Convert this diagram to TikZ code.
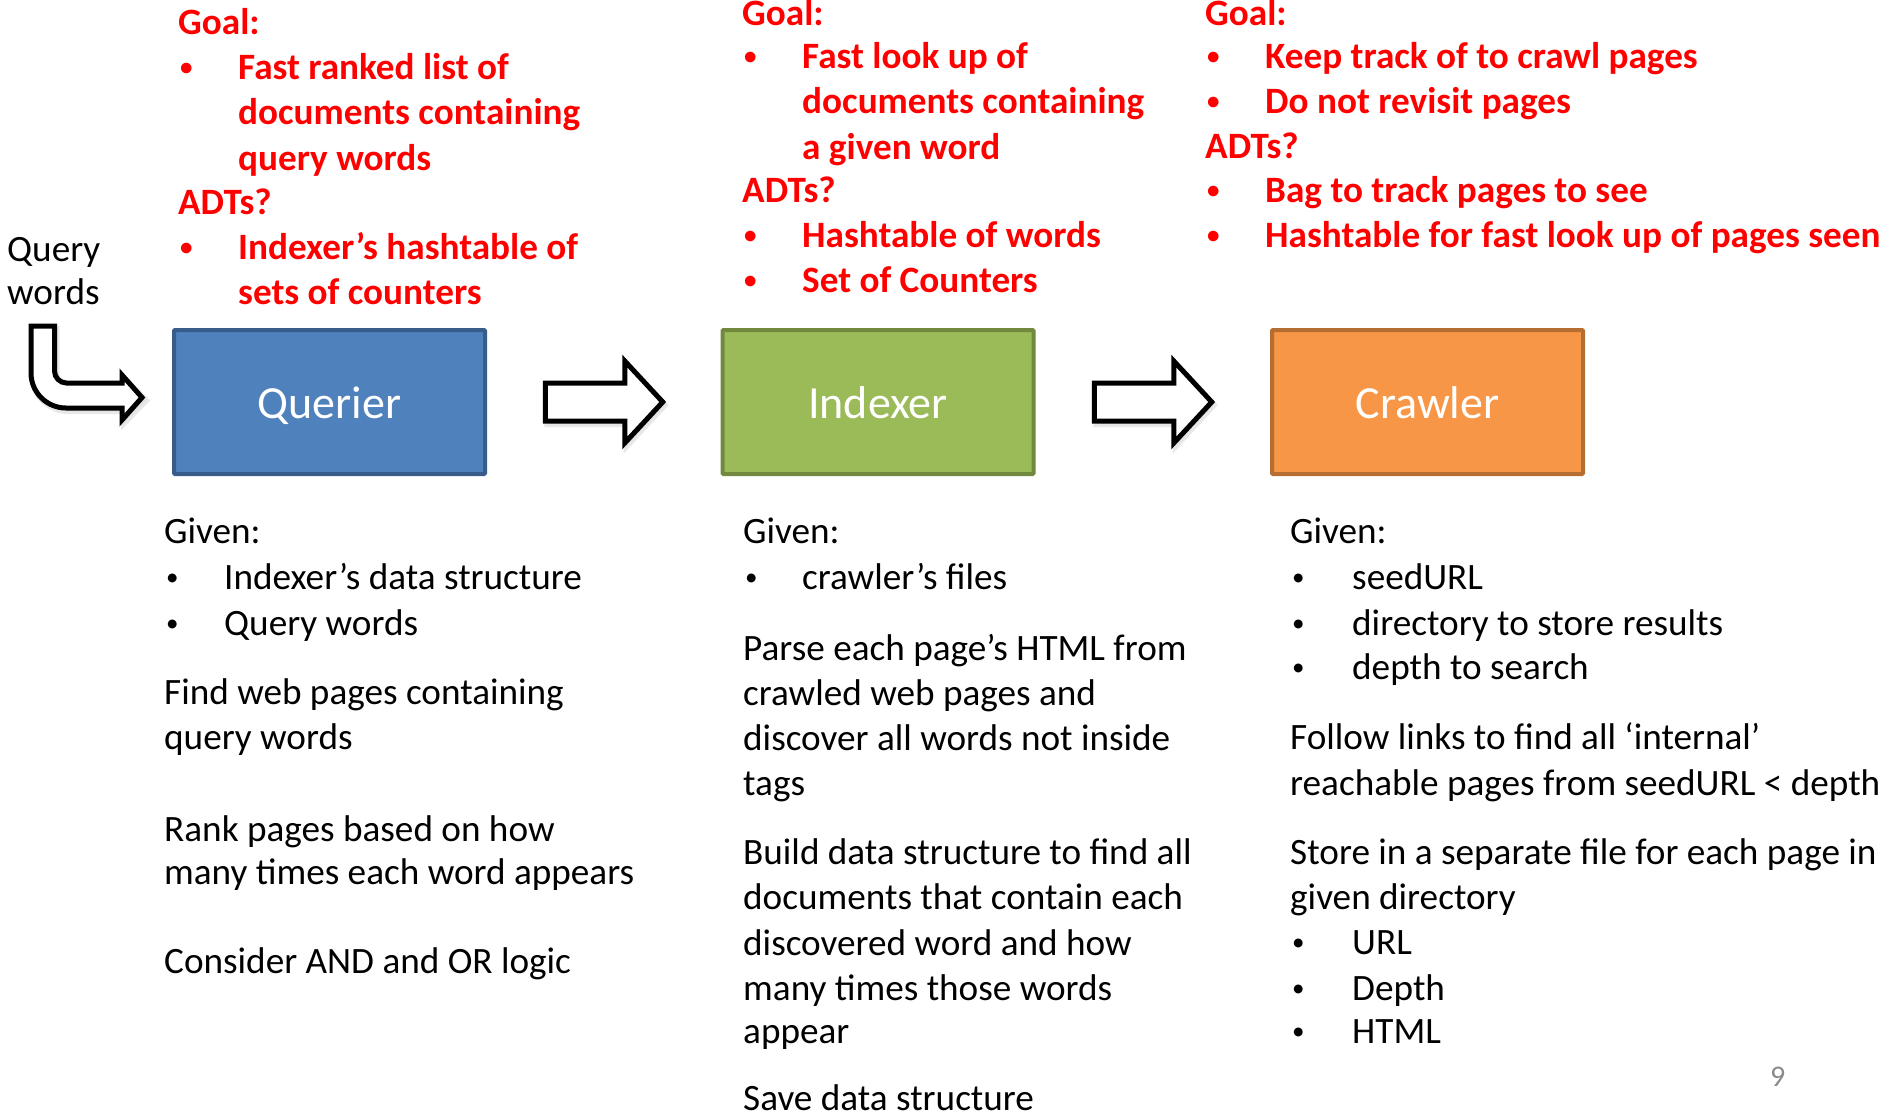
\documentclass[tikz,border=0pt]{standalone}
\usepackage{fontspec}
\setmainfont{Carlito}
\usetikzlibrary{calc}
\definecolor{qfill}{HTML}{4F81BD}
\definecolor{qline}{HTML}{385D8A}
\definecolor{ifill}{HTML}{9BBB59}
\definecolor{iline}{HTML}{71893F}
\definecolor{cfill}{HTML}{F79646}
\definecolor{cline}{HTML}{B66D31}
\definecolor{redtxt}{HTML}{FF0000}
\definecolor{pgnum}{HTML}{8A8A8A}
\begin{document}
\begin{tikzpicture}[x=1pt,y=-1pt,
  bt/.style={anchor=base west, inner sep=0pt, font=\fontsize{37.2}{44}\selectfont},
  rt/.style={anchor=base west, inner sep=0pt, text=redtxt, font=\fontsize{37.2}{44}\selectfont\bfseries},
  bb/.style={anchor=base west, inner sep=0pt, yshift=3.5pt, font=\fontsize{25}{30}\selectfont},
  rb/.style={bb, text=redtxt, font=\fontsize{25}{30}\selectfont\bfseries},
  box/.style={line width=4pt, minimum width=311pt, minimum height=144pt, inner sep=0pt, text height=32pt, text depth=0pt, text=white, font=\fontsize{46}{50}\selectfont, rounded corners=1pt},
  blk/.style={draw=black, fill=white, line width=5pt, line join=miter},
  shd/.style={draw=black!18, fill=black!10, line width=6pt, line join=miter}]
\useasboundingbox (0,0) rectangle (1889,1117);

% boxes
\node[box, draw=qline, fill=qfill] (q) at (329.5,402) {Querier};
\node[box, draw=iline, fill=ifill] (i) at (878,402) {Indexer};
\node[box, draw=cline, fill=cfill] (c) at (1427.5,402) {Crawler};

% block arrows between boxes
\coordinate (a1) at ($(q.east)!0.5!(i.west)$);
\coordinate (a2) at ($(i.east)!0.5!(c.west)$);
\foreach \a in {a1,a2}{
  \begin{scope}[shift={(\a)}]
    \draw[shd, opacity=0.5] (-56.5,-16) -- (23,-16) -- (23,-38) -- (61,3) -- (23,44) -- (23,22) -- (-56.5,22) -- cycle;
    \draw[blk] (-58.5,-19) -- (21,-19) -- (21,-41) -- (59,0) -- (21,41) -- (21,19) -- (-58.5,19) -- cycle;
  \end{scope}
}

% bent arrow from query words into querier
\coordinate (qin) at ($(q.west)+(-30,-4.5)$);
\draw[shd, opacity=0.5] (33,329) -- (56.5,329) -- (56.5,374) .. controls (56.5,380.6) and (61.9,386) .. (68.5,386) -- (124,386) -- (124,378) -- (146,400.5) -- (124,423) -- (124,411) -- (68,411) .. controls (48.7,411) and (33,395.3) .. (33,376) -- cycle;
\draw[blk] (31,326) -- (54.5,326) -- (54.5,371) .. controls (54.5,377.6) and (59.9,383) .. (66.5,383) -- (122,383) -- (122,375) -- (qin) -- (122,420) -- (122,408) -- (66,408) .. controls (46.7,408) and (31,392.3) .. (31,373) -- cycle;

\node[bt] (qw1) at (7,261) {Query};
\node[bt] (qw2) at (7,304) {words};

% red column 1
\node[rt] (r1a) at (178,34) {Goal:};
\node[rb] (r1b) at (180,79) {•};
\node[rt] (r1c) at (238,79) {Fast ranked list of};
\node[rt] (r1d) at (238,124) {documents containing};
\node[rt] (r1e) at (238,170) {query words};
\node[rt] (r1f) at (178,214) {ADTs?};
\node[rb] (r1g) at (180,259) {•};
\node[rt] (r1h) at (238,259) {Indexer’s hashtable of};
\node[rt] (r1i) at (238,304) {sets of counters};

% red column 2
\node[rt] (r2a) at (742,25) {Goal:};
\node[rb] (r2b) at (744,68) {•};
\node[rt] (r2c) at (802,68) {Fast look up of};
\node[rt] (r2d) at (802,113) {documents containing};
\node[rt] (r2e) at (802,159) {a given word};
\node[rt] (r2f) at (742,202) {ADTs?};
\node[rb] (r2g) at (744,247) {•};
\node[rt] (r2h) at (802,247) {Hashtable of words};
\node[rb] (r2i) at (744,292) {•};
\node[rt] (r2j) at (802,292) {Set of Counters};

% red column 3
\node[rt] (r3a) at (1205,25) {Goal:};
\node[rb] (r3b) at (1207,68) {•};
\node[rt] (r3c) at (1265,68) {Keep track of to crawl pages};
\node[rb] (r3d) at (1207,113) {•};
\node[rt] (r3e) at (1265,113) {Do not revisit pages};
\node[rt] (r3f) at (1205,158) {ADTs?};
\node[rb] (r3g) at (1207,202) {•};
\node[rt] (r3h) at (1265,202) {Bag to track pages to see};
\node[rb] (r3i) at (1207,247) {•};
\node[rt] (r3j) at (1265,247) {Hashtable for fast look up of pages seen};

% black column 1
\node[bt] (b1a) at (164,543) {Given:};
\node[bb] (b1b) at (166,589) {•};
\node[bt] (b1c) at (224,589) {Indexer’s data structure};
\node[bb] (b1d) at (166,635) {•};
\node[bt] (b1e) at (224,635) {Query words};
\node[bt] (b1f) at (164,704) {Find web pages containing};
\node[bt] (b1g) at (164,749) {query words};
\node[bt] (b1h) at (164,841) {Rank pages based on how};
\node[bt] (b1i) at (164,884) {many times each word appears};
\node[bt] (b1j) at (164,973) {Consider AND and OR logic};

% black column 2
\node[bt] (b2a) at (743,543) {Given:};
\node[bb] (b2b) at (745,589) {•};
\node[bt] (b2c) at (802,589) {crawler’s files};
\node[bt] (b2d) at (743,660) {Parse each page’s HTML from};
\node[bt] (b2e) at (743,705) {crawled web pages and};
\node[bt] (b2f) at (743,750) {discover all words not inside};
\node[bt] (b2g) at (743,795) {tags};
\node[bt] (b2h) at (743,864) {Build data structure to find all};
\node[bt] (b2i) at (743,909) {documents that contain each};
\node[bt] (b2j) at (743,955) {discovered word and how};
\node[bt] (b2k) at (743,1000) {many times those words};
\node[bt] (b2l) at (743,1043) {appear};
\node[bt] (b2m) at (743,1110) {Save data structure};

% black column 3
\node[bt] (b3a) at (1290,543) {Given:};
\node[bb] (b3b) at (1292,589) {•};
\node[bt] (b3c) at (1352,589) {seedURL};
\node[bb] (b3d) at (1292,635) {•};
\node[bt] (b3e) at (1352,635) {directory to store results};
\node[bb] (b3f) at (1292,679) {•};
\node[bt] (b3g) at (1352,679) {depth to search};
\node[bt] (b3h) at (1290,749) {Follow links to find all ‘internal’};
\node[bt] (b3i) at (1290,795) {reachable pages from seedURL < depth};
\node[bt] (b3j) at (1290,864) {Store in a separate file for each page in};
\node[bt] (b3k) at (1290,909) {given directory};
\node[bb] (b3l) at (1292,954) {•};
\node[bt] (b3m) at (1352,954) {URL};
\node[bb] (b3n) at (1292,1000) {•};
\node[bt] (b3o) at (1352,1000) {Depth};
\node[bb] (b3p) at (1292,1043) {•};
\node[bt] (b3q) at (1352,1043) {HTML};

% page number
\node[anchor=base west, inner sep=0pt, text=pgnum, font=\fontsize{30}{34}\selectfont] (pg) at (1770,1086) {9};
\end{tikzpicture}
\end{document}
